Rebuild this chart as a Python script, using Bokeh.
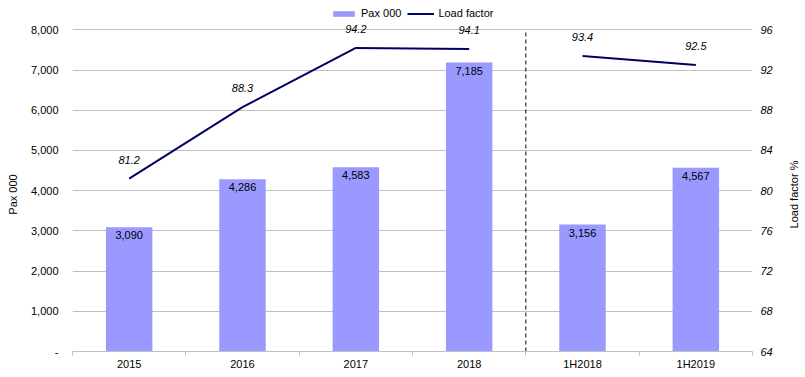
import math
from bokeh.plotting import figure
from bokeh.layouts import row
from bokeh.models import (ColumnDataSource, Range1d, LinearAxis, FixedTicker,
                          NumeralTickFormatter, Legend, LegendItem, LabelSet)
from bokeh.core.properties import value
from bokeh.embed import file_html
from bokeh.resources import INLINE

# ---- data ----
categories = ["2015", "2016", "2017", "2018", "1H2018", "1H2019"]
pax_000 = [3090, 4286, 4583, 7185, 3156, 4567]
load_factor = [81.2, 88.3, 94.2, 94.1, 93.4, 92.5]
annual_n = 4  # first four categories are full years, the rest half-years
left_ticks = [0, 1000, 2000, 3000, 4000, 5000, 6000, 7000, 8000]
right_ticks = [64, 68, 72, 76, 80, 84, 88, 92, 96]
left_title = "Pax 000"
right_title = "Load factor %"

FONT = "Liberation Sans"
BAR = "#9999FF"
LINE = "#000066"
GRID = "#C0C0C0"
H = 377
TOP, BOTTOM = 0, 26

# frame extends above the top gridline so the legend and labels there are not clipped
HEADROOM = (H - BOTTOM - TOP) / 321.7
left_top = left_ticks[0] + (left_ticks[-1] - left_ticks[0]) * HEADROOM
right_top = right_ticks[0] + (right_ticks[-1] - right_ticks[0]) * HEADROOM

idx = list(range(len(categories)))
src = ColumnDataSource(dict(
    x=idx,
    pax=pax_000,
    pax_lbl=[f"{v:,}" for v in pax_000],
    lf=load_factor,
    lf_lbl=[f"{v:.1f}" for v in load_factor],
))


def title_fig(width, text, x, y):
    # frames in a row are aligned with the main plot's frame (TOP .. H-BOTTOM)
    f = figure(width=width, height=H, output_backend="svg", toolbar_location=None,
               x_range=Range1d(0, width), y_range=Range1d(H - BOTTOM, TOP),
               x_axis_location=None, y_axis_location=None,
               min_border_left=0, min_border_right=0,
               min_border_top=TOP, min_border_bottom=BOTTOM)
    f.grid.visible = False
    f.outline_line_color = None
    f.text(x=[x], y=[y], text=[text], angle=math.pi / 2, text_align="center",
           text_baseline="middle", text_font=value(FONT), text_font_size="11px",
           text_color="black")
    return f


pL = title_fig(18, left_title, 12, 194)

p = figure(width=769, height=H, output_backend="svg", toolbar_location=None,
           x_range=Range1d(-0.5, len(categories) - 0.5),
           y_range=Range1d(left_ticks[0], left_top),
           min_border_left=54, min_border_right=35, min_border_top=TOP,
           min_border_bottom=BOTTOM)
p.outline_line_color = None
p.background_fill_color = "white"
p.extra_y_ranges = {"lf": Range1d(right_ticks[0], right_top)}

# bars
bars = p.vbar(x="x", top="pax", width=0.41, bottom=0, source=src,
              fill_color=BAR, line_color=None)

# separator between full years and half-years
p.segment(x0=[annual_n - 0.5], y0=[left_ticks[0]], x1=[annual_n - 0.5],
          y1=[left_ticks[-1]], line_color="black", line_width=1,
          line_dash="4 3")

# line (two segments: years and half-years)
line1 = p.line(idx[:annual_n], load_factor[:annual_n], y_range_name="lf",
               line_color=LINE, line_width=2)
p.line(idx[annual_n:], load_factor[annual_n:], y_range_name="lf",
       line_color=LINE, line_width=2)

# bar labels
p.text(x="x", y="pax", text="pax_lbl", source=src, text_align="center",
       text_baseline="top", y_offset=4, text_font=value(FONT),
       text_font_size="11px", text_color="black")

# line labels
lbls = LabelSet(x="x", y="lf", text="lf_lbl", source=src, y_range_name="lf",
                text_align="center", text_baseline="middle", y_offset=19,
                text_font=value(FONT), text_font_size="11px",
                text_font_style="italic", text_color="black")
p.add_layout(lbls)

# x axis
xa = p.xaxis[0]
xa.ticker = FixedTicker(ticks=idx, minor_ticks=[i - 0.5 for i in range(len(categories) + 1)])
xa.major_label_overrides = {i: c for i, c in zip(idx, categories)}
xa.major_tick_out = 0
xa.major_tick_in = 0
xa.minor_tick_out = 4
xa.minor_tick_in = 0
xa.minor_tick_line_color = GRID
xa.axis_line_color = GRID
xa.major_label_standoff = 2
xa.major_label_text_font = FONT
xa.major_label_text_font_size = "11px"
xa.major_label_text_color = "black"

# left axis
ya = p.yaxis[0]
ya.ticker = FixedTicker(ticks=left_ticks)
ya.formatter = NumeralTickFormatter(format="0,0")
ya.major_label_overrides = {0: "-"}
ya.axis_line_color = None
ya.major_tick_line_color = None
ya.minor_tick_line_color = None
ya.major_label_standoff = 8
ya.major_label_text_font = FONT
ya.major_label_text_font_size = "11px"
ya.major_label_text_color = "black"

# right axis
ra = LinearAxis(y_range_name="lf", ticker=FixedTicker(ticks=right_ticks))
ra.axis_line_color = None
ra.major_tick_line_color = None
ra.minor_tick_line_color = None
ra.major_label_standoff = 2
ra.major_label_text_font = FONT
ra.major_label_text_font_size = "11px"
ra.major_label_text_font_style = "italic"
ra.major_label_text_color = "black"
p.add_layout(ra, "right")

# grid
p.xgrid.grid_line_color = None
p.ygrid.ticker = FixedTicker(ticks=left_ticks)
p.ygrid.grid_line_color = GRID

# legend (inside the frame's headroom)
legend = Legend(items=[LegendItem(label="Pax 000", renderers=[bars]),
                       LegendItem(label="Load factor", renderers=[line1])],
                location=(258, 332), orientation="horizontal",
                padding=0, margin=0, spacing=6, label_standoff=4,
                glyph_width=27, glyph_height=7, label_height=12,
                label_text_font=FONT, label_text_font_size="11px",
                label_text_color="black", border_line_color=None,
                background_fill_alpha=0)
p.add_layout(legend, "center")

pR = title_fig(18, right_title, 6, 194)

layout = row(pL, p, pR, spacing=0)
open("out.html", "w").write(file_html(layout, INLINE))
